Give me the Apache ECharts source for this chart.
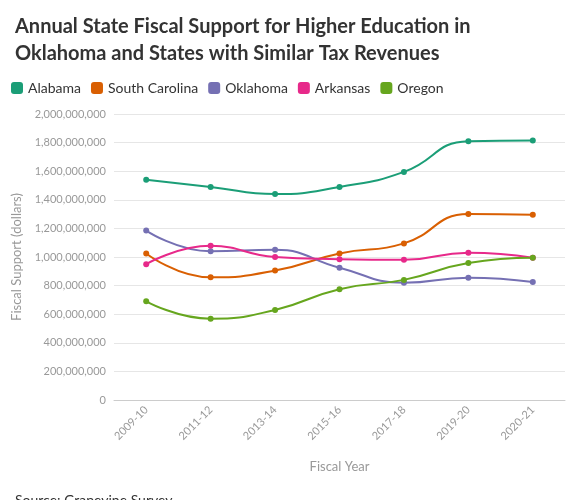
<!DOCTYPE html>
<html>
<head>
<meta charset="utf-8">
<script src="https://cdn.jsdelivr.net/npm/echarts@6/dist/echarts.min.js"></script>
<style>body{margin:0}#main{width:583px;height:500px}</style>
</head>
<body>
<div id="main"></div>
<script>
var years = ['2009-10','2011-12','2013-14','2015-16','2017-18','2019-20','2020-21'];
var alabama = [1540e6,1490e6,1440e6,1490e6,1595e6,1810e6,1815e6];
var southCarolina = [1025e6,858e6,905e6,1025e6,1095e6,1300e6,1295e6];
var oklahoma = [1185e6,1040e6,1050e6,925e6,820e6,855e6,825e6];
var arkansas = [950e6,1078e6,1000e6,985e6,980e6,1030e6,995e6];
var oregon = [690e6,568e6,630e6,775e6,840e6,958e6,995e6];

var names = ['Alabama','South Carolina','Oklahoma','Arkansas','Oregon'];
var values = [alabama, southCarolina, oklahoma, arkansas, oregon];
var colors = ['#1b9e77','#d95f02','#7570b3','#e7298a','#66a61e'];
var font = 'Lato';

var chart = echarts.init(document.getElementById('main'));
chart.setOption({
  textStyle: {fontFamily: font},
  color: colors,
  title: [{
    text: 'Annual State Fiscal Support for Higher Education in\nOklahoma and States with Similar Tax Revenues',
    left: 10, top: 8,
    textStyle: {fontSize: 20, fontWeight: 'bold', color: '#333', lineHeight: 27, fontFamily: font}
  }, {
    text: 'Source: Grapevine Survey',
    left: 10, top: 488,
    textStyle: {fontSize: 14, fontWeight: 'normal', color: '#333', fontFamily: font}
  }],
  legend: {
    left: 6, top: 76, icon: 'roundRect', itemWidth: 12, itemHeight: 12, itemGap: 10,
    textStyle: {fontSize: 14, color: '#333'},
    data: names
  },
  grid: {left: 114, right: 18, top: 114, bottom: 100},
  xAxis: {
    type: 'category', data: years, boundaryGap: true,
    name: 'Fiscal Year', nameLocation: 'middle', nameGap: 60,
    nameTextStyle: {color: '#999', fontSize: 13},
    axisLine: {lineStyle: {color: '#ccc'}},
    axisTick: {show: false},
    axisLabel: {rotate: 45, color: '#999', fontSize: 11}
  },
  yAxis: {
    type: 'value', min: 0, max: 2000000000, interval: 200000000,
    name: 'Fiscal Support (dollars)', nameLocation: 'middle', nameGap: 80,
    nameTextStyle: {color: '#999', fontSize: 13},
    axisLine: {show: false}, axisTick: {show: false},
    axisLabel: {color: '#999', fontSize: 11, formatter: function (v) { return v.toLocaleString('en-US'); }},
    splitLine: {lineStyle: {color: '#e6e6e6'}}
  },
  series: names.map(function (n, i) {
    return {
      name: n, type: 'line', smooth: true, data: values[i],
      symbol: 'circle', symbolSize: 6, lineStyle: {width: 2}
    };
  })
});
</script>
</body>
</html>
